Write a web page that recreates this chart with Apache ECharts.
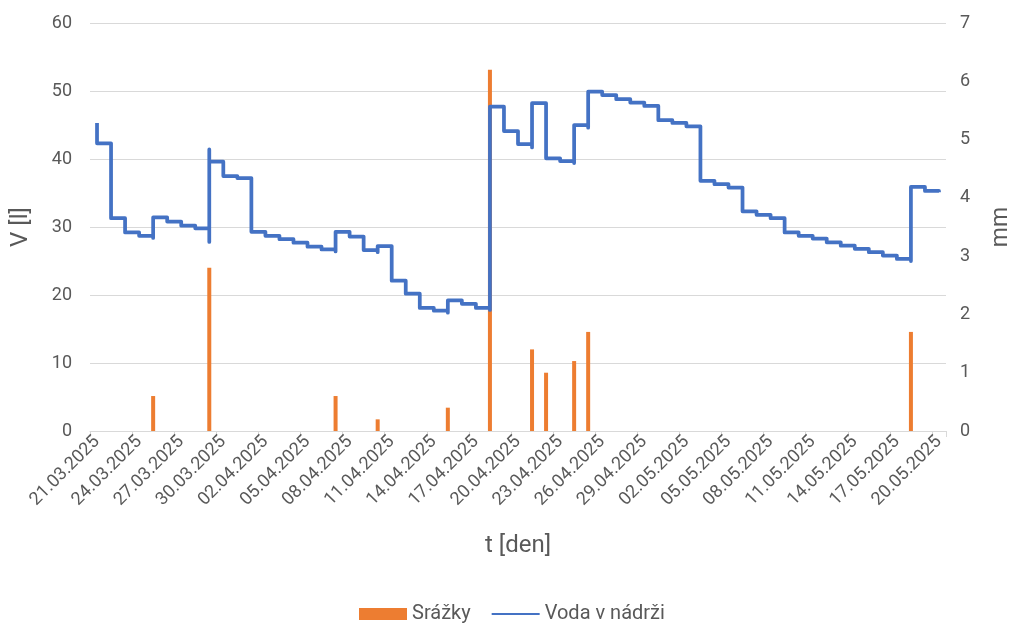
<!DOCTYPE html>
<html>
<head>
<meta charset="utf-8">
<script src="https://cdn.jsdelivr.net/npm/echarts@6/dist/echarts.min.js"></script>
<style>
html,body{margin:0;padding:0;background:#fff;}
#chart{width:1015px;height:630px;}
</style>
</head>
<body>
<div id="chart"></div>
<script>
// Categories: one per day
var dayLabels = [
 '21.03.2025','22.03.2025','23.03.2025','24.03.2025','25.03.2025','26.03.2025','27.03.2025','28.03.2025','29.03.2025','30.03.2025',
 '31.03.2025','01.04.2025','02.04.2025','03.04.2025','04.04.2025','05.04.2025','06.04.2025','07.04.2025','08.04.2025','09.04.2025',
 '10.04.2025','11.04.2025','12.04.2025','13.04.2025','14.04.2025','15.04.2025','16.04.2025','17.04.2025','18.04.2025','19.04.2025',
 '20.04.2025','21.04.2025','22.04.2025','23.04.2025','24.04.2025','25.04.2025','26.04.2025','27.04.2025','28.04.2025','29.04.2025',
 '30.04.2025','01.05.2025','02.05.2025','03.05.2025','04.05.2025','05.05.2025','06.05.2025','07.05.2025','08.05.2025','09.05.2025',
 '10.05.2025','11.05.2025','12.05.2025','13.05.2025','14.05.2025','15.05.2025','16.05.2025','17.05.2025','18.05.2025','19.05.2025',
 '20.05.2025'
];

// Precipitation [mm] per day (right axis)
var rainMm = [
 0,0,0,0,0.6,0,0,0,2.8,0,
 0,0,0,0,0,0,0,0.6,0,0,
 0.2,0,0,0,0,0.4,0,0,6.2,0,
 0,1.4,1.0,0,1.2,1.7,0,0,0,0,
 0,0,0,0,0,0,0,0,0,0,
 0,0,0,0,0,0,0,0,1.7,0,
 0
];

// Water in tank [l]: successive readings within each day
var waterByDay = [
 [45.3,42.3],[42.3,31.3],[31.3,29.2],[29.2,28.7],[28.7,28.4,31.4],
 [31.4,30.8],[30.8,30.2],[30.2,29.8],[29.8,27.8,41.4,39.6],[39.6,37.5],
 [37.5,37.2],[37.2,29.3],[29.3,28.7],[28.7,28.2],[28.2,27.7],
 [27.7,27.1],[27.1,26.7],[26.7,26.4,29.3],[29.3,28.6],[28.6,26.6],
 [26.6,26.3,27.2],[27.2,22.1],[22.1,20.2],[20.2,18.1],[18.1,17.7],
 [17.7,17.4,19.2],[19.2,18.7],[18.7,18.1],[18.1,17.8,47.7],[47.7,44.1],
 [44.1,42.2],[42.2,41.7,48.2],[48.2,40.1],[40.1,39.7],[39.7,39.4,45.0],
 [45.0,44.6,49.9],[49.9,49.4],[49.4,48.8],[48.8,48.3],[48.3,47.8],
 [47.8,45.7],[45.7,45.3],[45.3,44.8],[44.8,36.8],[36.8,36.3],
 [36.3,35.8],[35.8,32.3],[32.3,31.8],[31.8,31.3],[31.3,29.2],
 [29.2,28.7],[28.7,28.3],[28.3,27.75],[27.75,27.25],[27.25,26.8],
 [26.8,26.3],[26.3,25.8],[25.8,25.3],[25.3,25.0,35.9],[35.9,35.3],
 [35.3,35.1]
];

var leftTicks = {min:0, max:60, interval:10};
var rightTicks = {min:0, max:7, interval:1};

var waterData = [];
waterByDay.forEach(function(vals, i){
  vals.forEach(function(v){ waterData.push([i, v]); });
});

var FONT = 'Roboto';
var TXT = '#595959';
var chart = echarts.init(document.getElementById('chart'), null, {renderer:'canvas'});
chart.setOption({
  animation:false,
  textStyle:{fontFamily:FONT},
  grid:{left:90, right:69, top:23, bottom:199, containLabel:false, outerBoundsMode:'none'},
  legend:{
    bottom:1, left:354, itemGap:20, itemWidth:48, itemHeight:12,
    textStyle:{fontFamily:FONT, fontSize:20, color:TXT},
    data:[{name:'Srážky', icon:'rect'}, {name:'Voda v nádrži', itemStyle:{opacity:0}}]
  },
  xAxis:{
    type:'category', data:dayLabels, boundaryGap:true,
    name:'t [den]', nameLocation:'middle', nameGap:103,
    nameTextStyle:{fontFamily:FONT, fontSize:24, color:TXT},
    axisLine:{lineStyle:{color:'#d9d9d9', width:1}},
    axisTick:{show:true, interval:2, length:6, lineStyle:{color:'#d9d9d9'}},
    axisLabel:{interval:2, rotate:45, fontFamily:FONT, fontSize:18, color:TXT, margin:8},
    splitLine:{show:false}
  },
  yAxis:[{
    type:'value', min:leftTicks.min, max:leftTicks.max, interval:leftTicks.interval,
    name:'V [l]', nameLocation:'middle', nameGap:57,
    nameTextStyle:{fontFamily:FONT, fontSize:24, color:TXT},
    axisLine:{show:false}, axisTick:{show:false},
    axisLabel:{fontFamily:FONT, fontSize:18, color:TXT, margin:18},
    splitLine:{lineStyle:{color:'#d9d9d9', width:1}}
  },{
    type:'value', min:rightTicks.min, max:rightTicks.max, interval:rightTicks.interval,
    name:'mm', nameLocation:'middle', nameGap:44,
    nameTextStyle:{fontFamily:FONT, fontSize:23, color:TXT},
    axisLine:{show:false}, axisTick:{show:false},
    axisLabel:{fontFamily:FONT, fontSize:18, color:TXT, margin:14},
    splitLine:{show:false}
  }],
  series:[{
    name:'Srážky', type:'bar', yAxisIndex:1, data:rainMm,
    barWidth:4, itemStyle:{color:'#ED7D31'}, z:2
  },{
    name:'Voda v nádrži', type:'line', yAxisIndex:0, data:waterData,
    showSymbol:false, symbol:'none',
    lineStyle:{color:'#4472C4', width:3.75, join:'round'},
    itemStyle:{color:'#4472C4'}, z:3
  }]
});
</script>
</body>
</html>
